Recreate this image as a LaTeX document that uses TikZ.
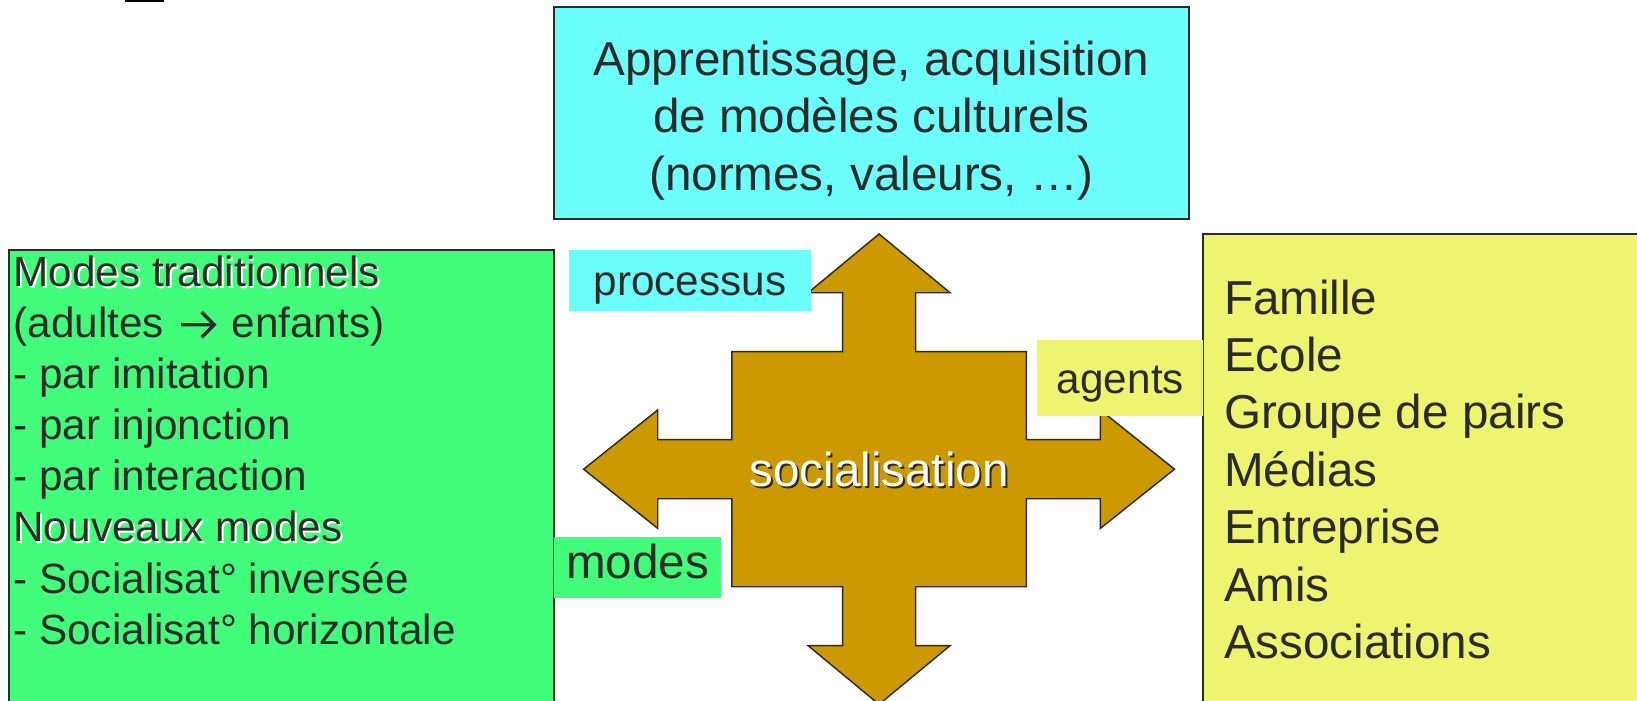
\documentclass[tikz,border=0pt]{standalone}
\usepackage{fontspec}
\setmainfont{Liberation Sans}
\definecolor{cyanbg}{RGB}{108,254,250}
\definecolor{vertbg}{RGB}{66,253,123}
\definecolor{jaunebg}{RGB}{238,243,112}
\definecolor{ocre}{RGB}{204,153,0}
\definecolor{encre}{RGB}{43,43,43}
\newcommand{\ombre}[2]{\makebox[0pt][l]{\hspace{0.9pt}\raisebox{-0.9pt}{\textcolor{#1}{#2}}}#2}
\newcommand{\versdroite}{\tikz[baseline=0pt]\draw[encre, line width=1.6pt] (0pt,6.2pt) -- (15.8pt,6.2pt) (9.8pt,12.2pt) -- (15.8pt,6.2pt) -- (9.8pt,0.2pt);}

\begin{document}
\begin{tikzpicture}[x=0.5pt, y=-0.5pt,
		cadre/.style={draw=encre, line width=1pt},
		grand/.style={font=\fontsize{22.8}{27.5}\selectfont, text=encre, inner sep=0pt},
		petit/.style={font=\fontsize{20.25}{24.5}\selectfont, text=encre, inner sep=0pt}]
				\fill[white] (0,0) rectangle (1568,671.4);
				\useasboundingbox (0,0) rectangle (1568,671.4);
				\fill[black] (120,-2) rectangle (157,1.5);
				\draw[cadre, fill=cyanbg] (530.5,7) rectangle (1139,209.5);
				\draw[cadre, fill=vertbg] (8.5,239.5) rectangle (530.5,720);
				\draw[cadre, fill=jaunebg] (1152.6,224.1) rectangle (1620,720);
				\draw[fill=ocre, draw=encre, line width=0.7pt, shift={(842,449.4)}]
					(0,-225.3) -- (68,-169) -- (35,-169) -- (35,-112.6) -- (141,-112.6) -- (141,-28.3)
					-- (212,-28.3) -- (212,-56.7) -- (283,0) -- (212,56.7) -- (212,28.3) -- (141,28.3)
					-- (141,112.6) -- (35,112.6) -- (35,169) -- (68,169) -- (0,225.3) -- (-68,169)
					-- (-35,169) -- (-35,112.6) -- (-141,112.6) -- (-141,28.3) -- (-212,28.3) -- (-212,56.7)
					-- (-283,0) -- (-212,-56.7) -- (-212,-28.3) -- (-141,-28.3) -- (-141,-112.6) -- (-35,-112.6)
					-- (-35,-169) -- (-68,-169) -- cycle;
				\node[grand, text=white, anchor=base] (socialisation) at (842,466) {\ombre{encre}{socialisation}};
				\fill[cyanbg] (544.9,239.5) rectangle (776.7,297.6);
				\node[petit, anchor=base] (processus) at (660.8,282.6) {processus};
				\fill[jaunebg] (993.7,325.7) rectangle (1152.6,398.5);
				\node[petit, anchor=base] (agents) at (1073.2,376.8) {agents};
				\fill[vertbg] (530.5,514) rectangle (690.7,572.5);
				\node[grand, anchor=base] (modes) at (610.6,554) {modes};
				\foreach \ligne [count=\i from 0] in {{Apprentissage, acquisition}, de modèles culturels, {(normes, valeurs, …)}}
					\node[grand, anchor=base] (titre\i) at (834.7,{72+55*\i}) {\ligne};
				\foreach \ligne [count=\i from 0] in {{\ombre{white}{Modes traditionnels}}, (adultes\hspace{7.5pt}\versdroite\hspace{7.5pt}enfants), - par imitation, - par injonction, - par interaction, {\ombre{white}{Nouveaux modes}}, - Socialisat° inversée, - Socialisat° horizontale}
					\node[petit, anchor=base west] (mode\i) at (12.5,{274.6+48.9*\i}) {\ligne};
				\foreach \agent [count=\i from 0] in {Famille, Ecole, Groupe de pairs, Médias, Entreprise, Amis, Associations}
					\node[grand, anchor=base west] (agent\i) at (1172,{300.8+55*\i}) {\agent};
			\end{tikzpicture}
\end{document}
